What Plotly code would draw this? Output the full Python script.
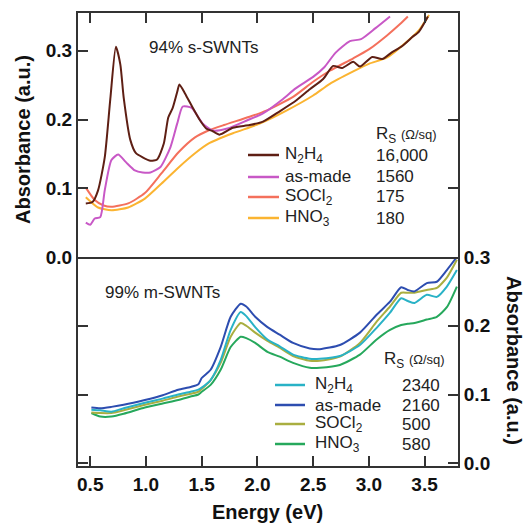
import plotly.graph_objects as go

# ---------------- Data: top panel (94% s-SWNTs) ----------------
s_n2h4_E = [0.46, 0.52, 0.57, 0.63, 0.68, 0.73, 0.77, 0.80, 0.86, 0.91, 0.97, 1.04, 1.10, 1.16,
            1.20, 1.24, 1.28, 1.30, 1.35, 1.42, 1.48, 1.54, 1.60, 1.66, 1.78, 1.93, 2.05, 2.20,
            2.35, 2.47, 2.59, 2.68, 2.76, 2.86, 2.92, 3.03, 3.12, 3.20, 3.30, 3.39, 3.45, 3.53]
s_n2h4_A = [0.078, 0.080, 0.097, 0.145, 0.230, 0.306, 0.280, 0.232, 0.170, 0.151, 0.145, 0.140, 0.142, 0.165,
            0.203, 0.217, 0.240, 0.251, 0.238, 0.217, 0.200, 0.187, 0.183, 0.178, 0.188, 0.192, 0.197, 0.212,
            0.228, 0.244, 0.259, 0.278, 0.275, 0.284, 0.277, 0.291, 0.288, 0.297, 0.307, 0.320, 0.328, 0.350]

s_asmade_E = [0.46, 0.50, 0.54, 0.59, 0.63, 0.69, 0.75, 0.82, 0.90, 0.97, 1.04, 1.13, 1.22, 1.28,
              1.33, 1.41, 1.51, 1.60, 1.73, 1.91, 2.05, 2.23, 2.34, 2.50, 2.60, 2.70, 2.83, 2.93,
              3.06, 3.19]
s_asmade_A = [0.050, 0.047, 0.056, 0.058, 0.097, 0.141, 0.149, 0.138, 0.126, 0.123, 0.123, 0.131, 0.160, 0.194,
              0.219, 0.217, 0.194, 0.184, 0.187, 0.199, 0.209, 0.230, 0.245, 0.262, 0.276, 0.297, 0.314, 0.317,
              0.333, 0.350]

s_socl2_E = [0.46, 0.54, 0.62, 0.69, 0.84, 0.99, 1.14, 1.29, 1.44, 1.56, 1.70, 1.93, 2.08, 2.32,
             2.50, 2.65, 2.86, 3.00, 3.16, 3.28, 3.35]
s_socl2_A = [0.101, 0.083, 0.075, 0.073, 0.078, 0.093, 0.122, 0.152, 0.174, 0.184, 0.192, 0.204, 0.213, 0.233,
             0.255, 0.271, 0.289, 0.302, 0.322, 0.339, 0.350]

s_hno3_E = [0.46, 0.57, 0.69, 0.84, 0.99, 1.14, 1.29, 1.44, 1.56, 1.78, 2.02, 2.26, 2.50, 2.65,
            2.86, 3.00, 3.16, 3.34, 3.45, 3.54]
s_hno3_A = [0.087, 0.072, 0.068, 0.072, 0.085, 0.107, 0.130, 0.151, 0.165, 0.180, 0.194, 0.213, 0.235, 0.252,
            0.270, 0.281, 0.290, 0.313, 0.330, 0.352]

s_labels = ["N<sub>2</sub>H<sub>4</sub>", "as-made", "SOCl<sub>2</sub>", "HNO<sub>3</sub>"]
s_rs = ["16,000", "1560", "175", "180"]

# ---------------- Data: bottom panel (99% m-SWNTs) ----------------
m_E = [0.51, 0.59, 0.69, 0.80, 0.99, 1.15, 1.29, 1.40, 1.47, 1.50, 1.58, 1.67, 1.76, 1.85, 1.90,
       1.98, 2.09, 2.20, 2.32, 2.47, 2.56, 2.74, 2.92, 3.07, 3.19, 3.29, 3.35, 3.41, 3.52, 3.61,
       3.70, 3.79]
m_n2h4_A = [0.078, 0.077, 0.075, 0.080, 0.088, 0.094, 0.100, 0.104, 0.107, 0.110, 0.121, 0.150, 0.194, 0.220, 0.214,
            0.198, 0.180, 0.170, 0.158, 0.152, 0.152, 0.156, 0.172, 0.197, 0.219, 0.240, 0.236, 0.233, 0.245, 0.242,
            0.257, 0.281]
m_asmade_A = [0.081, 0.080, 0.082, 0.085, 0.092, 0.099, 0.107, 0.111, 0.115, 0.124, 0.136, 0.169, 0.213, 0.232, 0.228,
              0.213, 0.198, 0.187, 0.175, 0.167, 0.166, 0.172, 0.190, 0.216, 0.235, 0.256, 0.252, 0.250, 0.262, 0.264,
              0.281, 0.300]
m_socl2_A = [0.074, 0.073, 0.073, 0.077, 0.085, 0.091, 0.097, 0.101, 0.104, 0.108, 0.121, 0.146, 0.184, 0.204, 0.200,
             0.190, 0.178, 0.168, 0.156, 0.149, 0.149, 0.155, 0.175, 0.206, 0.228, 0.248, 0.248, 0.248, 0.252, 0.255,
             0.270, 0.296]
m_hno3_A = [0.073, 0.068, 0.068, 0.072, 0.081, 0.087, 0.092, 0.097, 0.100, 0.104, 0.114, 0.136, 0.169, 0.184, 0.182,
            0.175, 0.162, 0.155, 0.146, 0.139, 0.139, 0.143, 0.158, 0.180, 0.194, 0.201, 0.203, 0.204, 0.209, 0.213,
            0.227, 0.257]

m_labels = ["N<sub>2</sub>H<sub>4</sub>", "as-made", "SOCl<sub>2</sub>", "HNO<sub>3</sub>"]
m_rs = ["2340", "2160", "500", "580"]

x_ticks = [0.5, 1.0, 1.5, 2.0, 2.5, 3.0, 3.5]
y_ticks = [0.0, 0.1, 0.2, 0.3]

# ---------------- Styles ----------------
s_colors = ["#5e1f14", "#c858c6", "#f4705c", "#fbb431"]
m_colors = ["#29b2c6", "#2d4db0", "#a9ae40", "#26a85c"]
AX = "#333333"
FONT = "Liberation Sans, Arial, sans-serif"

fig = go.Figure()

s_series = [(s_n2h4_E, s_n2h4_A), (s_asmade_E, s_asmade_A), (s_socl2_E, s_socl2_A), (s_hno3_E, s_hno3_A)]
for idx in [3, 2, 1, 0]:
    xe, ya = s_series[idx]
    fig.add_trace(go.Scatter(x=xe, y=ya, mode="lines", xaxis="x2", yaxis="y",
                             line=dict(color=s_colors[idx], width=2, shape="spline", smoothing=0.6),
                             showlegend=False, hoverinfo="skip"))

m_series = [m_n2h4_A, m_asmade_A, m_socl2_A, m_hno3_A]
for idx in [3, 2, 0, 1]:
    fig.add_trace(go.Scatter(x=m_E, y=m_series[idx], mode="lines", xaxis="x", yaxis="y2",
                             line=dict(color=m_colors[idx], width=2, shape="spline", smoothing=0.6),
                             showlegend=False, hoverinfo="skip"))

# Plot area in pixels: x 78..458, y 13..466
L, R, T, B = 78, 458, 13, 466
def px(xp):
    return (xp - L) / (R - L)
def py(yp):
    return (B - yp) / (B - T)

split = py(257)

tickfont = dict(family=FONT, size=19, color="#111", weight="bold")
common = dict(showgrid=False, zeroline=False, showline=True, linecolor=AX, linewidth=2,
              ticks="inside", ticklen=10, tickwidth=1.5, tickcolor=AX, automargin=False)

fig.update_layout(
    width=526, height=525,
    autosize=False,
    margin=dict(l=L, r=526 - R, t=T, b=525 - B, pad=0),
    paper_bgcolor="white", plot_bgcolor="white",
    font=dict(family=FONT, color="#111"),
    xaxis=dict(domain=[0, 1], anchor="y2", range=[0.39, 3.8], tickvals=x_ticks,
               ticktext=[f"{v:.1f}" for v in x_ticks], tickfont=tickfont, mirror=False, **common),
    xaxis2=dict(domain=[0, 1], anchor="y", range=[0.39, 3.8], tickvals=x_ticks, side="top",
                showticklabels=False, mirror=True, **common),
    yaxis=dict(domain=[split, 1], anchor="x2", range=[0, 0.355], tickvals=y_ticks,
               ticktext=[f"{v:.1f}" for v in y_ticks], tickfont=tickfont, mirror="ticks", **common),
    yaxis2=dict(domain=[0, split], anchor="x", side="right", range=[-0.004, 0.3], tickvals=y_ticks,
                ticktext=[f"{v:.1f}" for v in y_ticks], tickfont=tickfont, mirror="ticks", **common),
)

ann = []
shapes = []
titlefont = dict(family=FONT, size=20, color="#111", weight="bold")
ann.append(dict(text="Absorbance (a.u.)", x=px(23), y=py(140), xref="paper", yref="paper",
                textangle=-90, showarrow=False, font=titlefont, xanchor="center", yanchor="middle"))
ann.append(dict(text="Absorbance (a.u.)", x=px(514), y=py(360), xref="paper", yref="paper",
                textangle=90, showarrow=False, font=titlefont, xanchor="center", yanchor="middle"))
ann.append(dict(text="Energy (eV)", x=px(267), y=py(512), xref="paper", yref="paper",
                showarrow=False, font=titlefont, xanchor="center", yanchor="middle"))

lblfont = dict(family=FONT, size=17, color="#222")
ann.append(dict(text="94% s-SWNTs", x=px(147), y=py(48), xref="paper", yref="paper",
                showarrow=False, font=lblfont, xanchor="left", yanchor="middle"))
ann.append(dict(text="99% m-SWNTs", x=px(103), y=py(292), xref="paper", yref="paper",
                showarrow=False, font=lblfont, xanchor="left", yanchor="middle"))

rs_head = 'R<sub>S</sub> <span style="font-size:13px">(Ω/sq)</span>'

s_rows = [155, 177, 197, 218]
for i in range(4):
    shapes.append(dict(type="line", xref="paper", yref="paper", x0=px(248), x1=px(279),
                       y0=py(s_rows[i]), y1=py(s_rows[i]), line=dict(color=s_colors[i], width=2.5)))
    ann.append(dict(text=s_labels[i], x=px(283), y=py(s_rows[i]), xref="paper", yref="paper",
                    showarrow=False, font=lblfont, xanchor="left", yanchor="middle"))
    ann.append(dict(text=s_rs[i], x=px(374), y=py(s_rows[i]), xref="paper", yref="paper",
                    showarrow=False, font=lblfont, xanchor="left", yanchor="middle"))
ann.append(dict(text=rs_head, x=px(374), y=py(135), xref="paper", yref="paper",
                showarrow=False, font=lblfont, xanchor="left", yanchor="middle"))

m_rows = [385, 405, 424, 444]
for i in range(4):
    shapes.append(dict(type="line", xref="paper", yref="paper", x0=px(275), x1=px(305),
                       y0=py(m_rows[i]), y1=py(m_rows[i]), line=dict(color=m_colors[i], width=2.5)))
    ann.append(dict(text=m_labels[i], x=px(313), y=py(m_rows[i]), xref="paper", yref="paper",
                    showarrow=False, font=lblfont, xanchor="left", yanchor="middle"))
    ann.append(dict(text=m_rs[i], x=px(400), y=py(m_rows[i]), xref="paper", yref="paper",
                    showarrow=False, font=lblfont, xanchor="left", yanchor="middle"))
ann.append(dict(text=rs_head, x=px(382), y=py(360), xref="paper", yref="paper",
                showarrow=False, font=lblfont, xanchor="left", yanchor="middle"))

fig.update_layout(annotations=ann, shapes=shapes)
fig.write_html("out.html", config={"displayModeBar": False},
               post_script="document.body.style.margin='0';document.body.style.overflow='hidden';")
